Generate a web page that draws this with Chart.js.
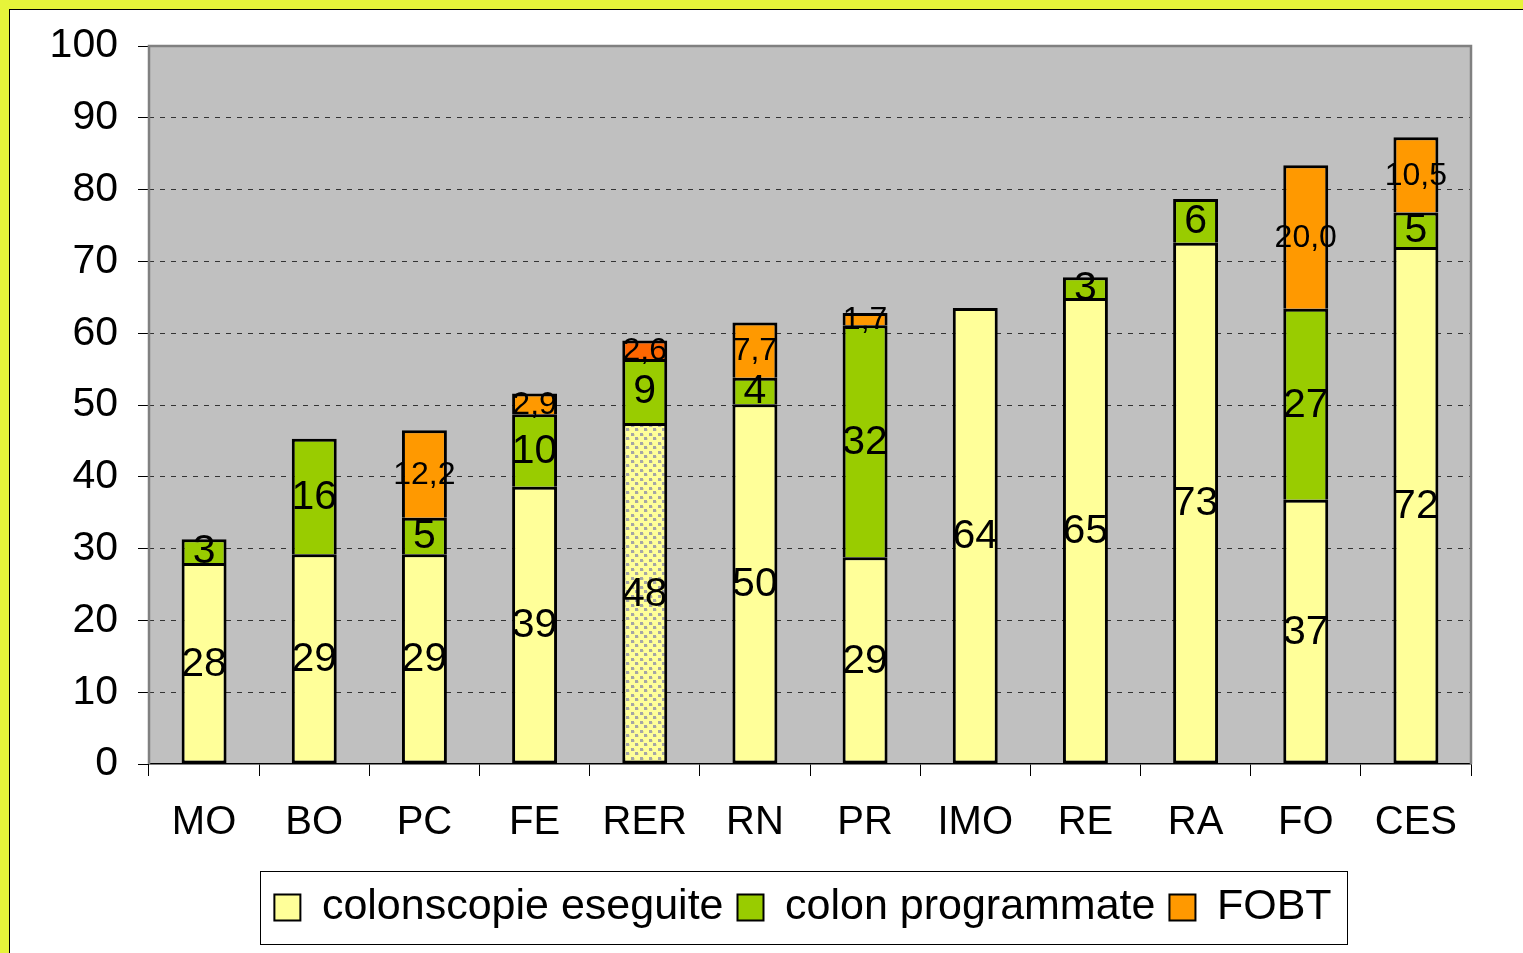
<!DOCTYPE html>
<html>
<head>
<meta charset="utf-8">
<script src="https://cdn.jsdelivr.net/npm/chart.js@4.4.1/dist/chart.umd.min.js"></script>
<style>
    html, body { margin: 0; padding: 0; background: #E6F43A; overflow: hidden; }
    #frame { position: absolute; left: 9px; top: 9px; width: 1514px; height: 944px; background: #fff; border-left: 1px solid #000; border-top: 1px solid #000; }
    #chart { display: block; }
</style>
</head>
<body>
<div id="frame"><canvas id="chart" width="1513" height="943"></canvas></div>
<script>
// values
const categories = ['MO', 'BO', 'PC', 'FE', 'RER', 'RN', 'PR', 'IMO', 'RE', 'RA', 'FO', 'CES'];
const colonscopieEseguite = [28.0, 29.2, 29.2, 38.6, 47.5, 50.1, 28.8, 63.5, 64.9, 72.6, 36.8, 72.0];
const colonProgrammate = [3.3, 16.1, 5.1, 10.1, 8.9, 3.7, 32.3, null, 2.9, 6.1, 26.6, 4.8];
const fobt = [null, null, 12.2, 2.9, 2.6, 7.7, 1.7, null, null, null, 20.0, 10.5];
const seriesNames = ['colonscopie eseguite', 'colon programmate', 'FOBT'];

const FONT = "'Liberation Sans', Arial, sans-serif";
const ctx = document.getElementById('chart').getContext('2d');

function makeDotPattern() {
    let c = document.createElement('canvas');
    c.width = 9;
    c.height = 9;
    let p = c.getContext('2d');
    p.fillStyle = '#FFFF99';
    p.fillRect(0, 0, 9, 9);
    p.fillStyle = '#A6A6A6';
    p.fillRect(0, 0, 3, 3);
    p.fillRect(4, 4, 3, 3);
    p.fillStyle = '#E8E88C';
    p.fillRect(3, 1, 1, 2);
    p.fillRect(7, 5, 1, 2);
    return ctx.createPattern(c, 'repeat');
}

// yellow colours, with the dotted fill on RER
let yellowFill = categories.map((c, i) => i === 4 ? makeDotPattern() : '#FFFF99');
// RER's FOBT slice is a darker orange
let orangeFill = categories.map((c, i) => i === 4 ? '#FF6600' : '#FF9900');

const plotBackground = {
    id: 'plotBackground',
    afterLayout(chart) {
        // nudge the legend a little to the left, like the original
        chart.legend.left -= 7;
        chart.legend.right -= 7;
    },
    beforeDraw(chart) {
        let a = chart.chartArea;
        let c = chart.ctx;
        c.save();
        c.fillStyle = '#C0C0C0';
        c.fillRect(a.left, a.top, a.right - a.left, a.bottom - a.top);
        c.restore();
    },
    beforeDatasetsDraw(chart) {
        let a = chart.chartArea;
        let c = chart.ctx;
        c.save();
        c.strokeStyle = '#808080';
        c.lineWidth = 2.5;
        c.beginPath();
        c.moveTo(a.left, a.bottom);
        c.lineTo(a.left, a.top);
        c.lineTo(a.right, a.top);
        c.lineTo(a.right, a.bottom);
        c.stroke();
        c.restore();
    }
};

const barLabels = {
    id: 'barLabels',
    afterDatasetsDraw(chart) {
        let c = chart.ctx;
        c.save();
        c.fillStyle = '#000';
        c.textAlign = 'center';
        c.textBaseline = 'middle';
        chart.data.datasets.forEach((ds, di) => {
            let meta = chart.getDatasetMeta(di);
            c.font = (di === 2 ? '32px ' : '41px ') + FONT;
            meta.data.forEach((bar, i) => {
                let v = ds.data[i];
                if (v === null || v === undefined) return;
                let text = di === 2 ? v.toFixed(1).replace('.', ',') : String(Math.round(v));
                c.fillText(text, bar.x, (bar.y + bar.base) / 2 + 1);
            });
        });
        c.restore();
    }
};

const legendBox = {
    id: 'legendBox',
    afterDraw(chart) {
        let lg = chart.legend;
        if (!lg || !lg.legendHitBoxes.length) return;
        let boxes = lg.legendHitBoxes;
        let left = Math.min(...boxes.map(b => b.left)) - 14;
        let right = Math.max(...boxes.map(b => b.left + b.width)) + 16;
        let mid = boxes[0].top + boxes[0].height / 2;
        let c = chart.ctx;
        c.save();
        c.strokeStyle = '#000';
        c.lineWidth = 1;
        c.strokeRect(Math.round(left) + 0.5, Math.round(mid - 37) + 0.5, Math.round(right - left), 73);
        c.restore();
    }
};

new Chart(ctx, {
    type: 'bar',
    data: {
        labels: categories,
        datasets: [{
            label: seriesNames[0],
            data: colonscopieEseguite,
            backgroundColor: yellowFill,
            borderSkipped: false
        }, {
            label: seriesNames[1],
            data: colonProgrammate,
            backgroundColor: '#99CC00',
            borderSkipped: 'start'
        }, {
            label: seriesNames[2],
            data: fobt,
            backgroundColor: orangeFill,
            borderSkipped: 'start'
        }]
    },
    options: {
        responsive: false,
        animation: false,
        devicePixelRatio: 1,
        datasets: {
            bar: {
                borderColor: '#000',
                borderWidth: 3,
                barPercentage: 0.408,
                categoryPercentage: 1
            }
        },
        layout: {
            padding: { left: 0, right: 52, top: 36, bottom: 14 }
        },
        scales: {
            x: {
                stacked: true,
                grid: {
                    drawOnChartArea: false,
                    drawTicks: true,
                    tickLength: 12,
                    color: '#000',
                    lineWidth: 1
                },
                border: { color: '#000', width: 1.5 },
                ticks: {
                    color: '#000',
                    padding: 23,
                    maxRotation: 0,
                    font: { family: FONT, size: 40 }
                },
                afterFit(scale) {
                    scale.height = 108;
                }
            },
            y: {
                stacked: true,
                min: 0,
                max: 100,
                grid: {
                    color: c => (c.tick && (c.tick.value === 0 || c.tick.value === 100)) ? 'rgba(0,0,0,0)' : '#333',
                    tickColor: '#000',
                    tickLength: 11,
                    lineWidth: 1
                },
                border: { display: false, dash: [5, 6] },
                ticks: {
                    stepSize: 10,
                    color: '#000',
                    padding: 20,
                    font: { family: FONT, size: 41 }
                },
                afterFit(scale) {
                    scale.width = 139;
                    scale.paddingTop = 0;
                    scale.paddingBottom = 0;
                }
            }
        },
        plugins: {
            tooltip: { enabled: false },
            legend: {
                position: 'bottom',
                fullSize: false,
                labels: {
                    color: '#000',
                    boxWidth: 26,
                    boxHeight: 26,
                    padding: 14,
                    font: { family: FONT, size: 43 },
                    generateLabels(chart) {
                        let items = Chart.defaults.plugins.legend.labels.generateLabels(chart);
                        items.forEach((it, i) => {
                            it.fillStyle = ['#FFFF99', '#99CC00', '#FF9900'][i];
                            it.lineWidth = 2;
                            it.strokeStyle = '#000';
                        });
                        return items;
                    }
                }
            }
        }
    },
    plugins: [plotBackground, barLabels, legendBox]
});
</script>
</body>
</html>
